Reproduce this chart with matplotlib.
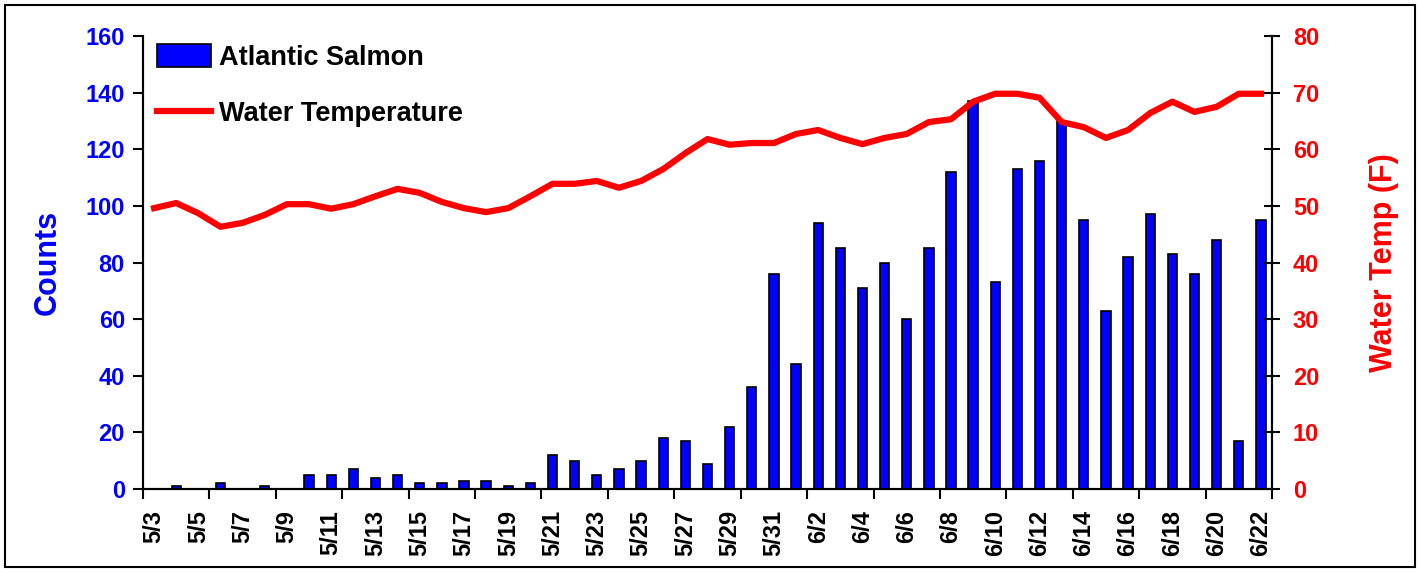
import numpy as np
import pandas as pd
import matplotlib
matplotlib.use("Agg")
import matplotlib.pyplot as plt
from matplotlib.patches import Patch, Rectangle
from matplotlib.lines import Line2D
from matplotlib.ticker import FixedLocator, NullFormatter

# daily categories 5/3 .. 6/22
days = pd.date_range("2021-05-03", "2021-06-22", freq="D")
day_labels = [f"{d.month}/{d.day}" for d in days]

# Atlantic salmon counts (left axis)
salmon_counts = [0, 1, 0, 2, 0, 1, 0, 5, 5, 7,
                 4, 5, 2, 2, 3, 3, 1, 2, 12, 10,
                 5, 7, 10, 18, 17, 9, 22, 36, 76, 44,
                 94, 85, 71, 80, 60, 85, 112, 137, 73, 113,
                 116, 130, 95, 63, 82, 97, 83, 76, 88, 17,
                 95]

# water temperature in F (right axis)
water_temp = [49.6, 50.5, 48.7, 46.3, 47.0, 48.4, 50.3, 50.3, 49.5, 50.3,
              51.7, 53.0, 52.3, 50.7, 49.6, 48.9, 49.6, 51.7, 53.9, 53.9,
              54.4, 53.2, 54.4, 56.5, 59.3, 61.8, 60.8, 61.1, 61.1, 62.7,
              63.4, 62.0, 60.9, 62.0, 62.7, 64.8, 65.3, 68.4, 69.8, 69.8,
              69.1, 64.8, 63.9, 62.0, 63.4, 66.4, 68.4, 66.6, 67.5, 69.8,
              69.8]

plt.rcParams['font.family'] = ['Liberation Sans', 'DejaVu Sans']
plt.rcParams['font.weight'] = 'bold'

BLUE = '#0000FF'
RED = '#FF0000'

fig = plt.figure(figsize=(14.19, 5.72), dpi=100)
ax = fig.add_axes([143/1419, 1-489/572, (1272-143)/1419, (489-36)/572])
ax2 = ax.twinx()

x = np.arange(len(days))
ax.bar(x, salmon_counts, width=0.42, color=BLUE, edgecolor='black', linewidth=1.2, zorder=2)
ax2.plot(x, water_temp, color=RED, linewidth=4.5, solid_joinstyle='round', zorder=3)

ax.set_xlim(-0.5, len(days) - 0.5)
ax.set_ylim(0, 160)
ax.set_yticks(np.arange(0, 161, 20))
ax2.set_ylim(0, 80)
ax2.set_yticks(np.arange(0, 81, 10))

# tick marks every 3 days on boundaries, labels every 2 days
ax.xaxis.set_major_locator(FixedLocator(np.arange(-0.5, len(days), 3)))
ax.xaxis.set_major_formatter(NullFormatter())
ax.set_xticks(x[::2], minor=True)
ax.set_xticklabels(day_labels[::2], minor=True, rotation=90, fontsize=17,
                   fontweight='bold', va='top', ha='center')
ax.tick_params(axis='x', which='major', direction='out', length=7, width=1.5)
ax.tick_params(axis='x', which='minor', length=0, pad=15)

ax.tick_params(axis='y', direction='out', length=7, width=1.5, pad=6,
               labelsize=17, labelcolor=BLUE)
ax2.tick_params(axis='y', direction='inout', length=12, width=1.5, pad=9,
                labelsize=17, labelcolor=RED)

for a in (ax, ax2):
    a.spines['top'].set_visible(False)
    for s in ('left', 'right', 'bottom'):
        a.spines[s].set_linewidth(1.5)

ax.set_ylabel("Counts", color=BLUE, fontsize=22, fontweight='bold', labelpad=16)
ax2.set_ylabel("Water Temp (F)", color=RED, fontsize=22, fontweight='bold',
               rotation=90, labelpad=36)

handles = [Patch(facecolor=BLUE, edgecolor='black', linewidth=1.2),
           Line2D([0], [0], color=RED, linewidth=4.5)]
ax2.legend(handles, ["Atlantic Salmon", "Water Temperature"], loc='upper left',
           bbox_to_anchor=(0.005, 1.0), frameon=False,
           prop={'weight': 'bold', 'size': 19.5},
           handlelength=2.0, handleheight=0.9, handletextpad=0.3,
           labelspacing=1.1, borderaxespad=0.2, borderpad=0.1)

# outer frame round the whole chart
fig.patches.append(Rectangle((5/1419, 5/572), 1410/1419, 562/572,
                             transform=fig.transFigure, fill=False,
                             edgecolor='black', linewidth=1.5))

fig.savefig("out.png", dpi=100)
